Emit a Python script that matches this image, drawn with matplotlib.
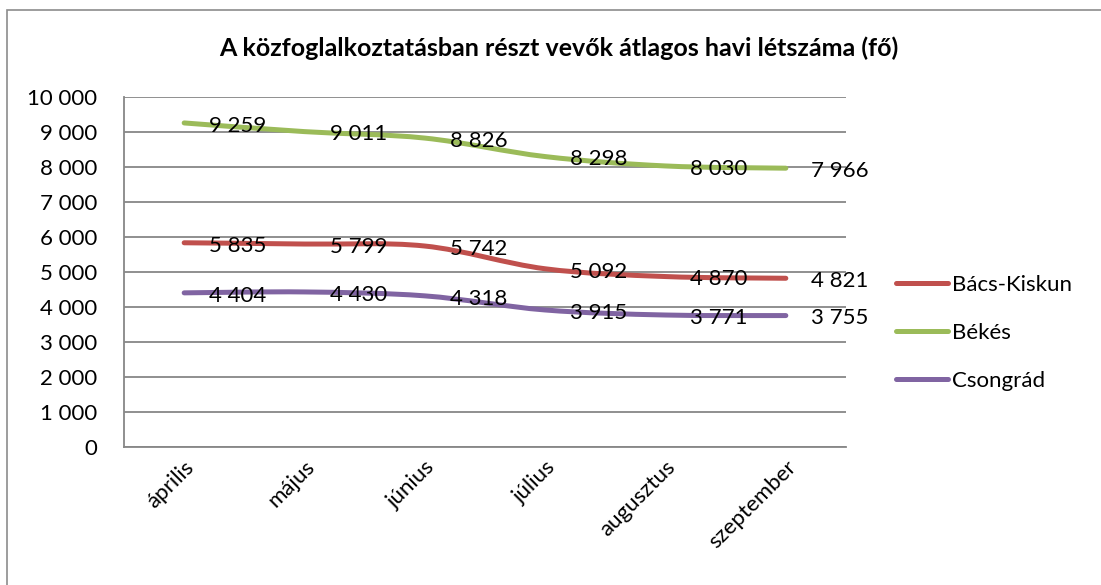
import numpy as np
import matplotlib.pyplot as plt
from matplotlib.path import Path
from matplotlib.patches import PathPatch, Rectangle
from matplotlib.lines import Line2D

plt.rcParams['font.family'] = ['Lato', 'DejaVu Sans']

months = ['április', 'május', 'június', 'július', 'augusztus', 'szeptember']
bacs_kiskun = [5835, 5799, 5742, 5092, 4870, 4821]
bekes = [9259, 9011, 8826, 8298, 8030, 7966]
csongrad = [4404, 4430, 4318, 3915, 3771, 3755]

series = [
    ('Bács-Kiskun', bacs_kiskun, '#C0504D'),
    ('Békés', bekes, '#9BBB59'),
    ('Csongrád', csongrad, '#8064A2'),
]

FS = 16


def fmt(v):
    return '{:,}'.format(int(v)).replace(',', ' ')


def smooth_path(xs, ys, t=1 / 6):
    # Excel-style smoothed line: cubic bezier through the points
    pts = np.column_stack([xs, ys]).astype(float)
    verts = [pts[0]]
    codes = [Path.MOVETO]
    n = len(pts)
    for i in range(n - 1):
        p0 = pts[i - 1] if i > 0 else pts[i]
        p1 = pts[i]
        p2 = pts[i + 1]
        p3 = pts[i + 2] if i + 2 < n else pts[i + 1]
        c1 = p1 + (p2 - p0) * t
        c2 = p2 - (p3 - p1) * t
        verts += [c1, c2, p2]
        codes += [Path.CURVE4] * 3
    return Path(verts, codes)


fig = plt.figure(figsize=(11.01, 5.85), dpi=100)
ax = fig.add_axes([124 / 1101, 1 - 447 / 585, 722 / 1101, 350 / 585])

fig.patches.append(Rectangle((7 / 1101, -0.1), 1.2, 1 - 10 / 585 + 0.1,
                             transform=fig.transFigure, fill=False,
                             edgecolor='#8c8c8c', linewidth=1.2))

x = np.arange(len(months))
for name, vals, col in series:
    ax.add_patch(PathPatch(smooth_path(x, vals), fill=False, edgecolor=col,
                           linewidth=3.6, capstyle='round', zorder=3))
    for xi, v in zip(x, vals):
        ax.annotate(fmt(v), (xi, v), xytext=(18, -2), textcoords='offset points',
                    ha='left', va='center', fontsize=FS, color='black', zorder=4)

ax.set_xlim(-0.5, len(months) - 0.5)
ax.set_ylim(0, 10000)
ax.set_yticks(np.arange(0, 10001, 1000))
ax.set_yticklabels([fmt(v) for v in np.arange(0, 10001, 1000)], fontsize=FS)
ax.set_xticks(x)
ax.set_xticklabels(months, rotation=45, ha='right', rotation_mode='anchor', fontsize=FS)
ax.tick_params(axis='y', length=0, pad=19)
ax.tick_params(axis='x', length=0, pad=7)
ax.grid(axis='y', color='#878787', linewidth=1.3)
ax.set_axisbelow(True)
for s in ['top', 'right']:
    ax.spines[s].set_visible(False)
for s in ['left', 'bottom']:
    ax.spines[s].set_color('#878787')
    ax.spines[s].set_linewidth(1.3)

handles = [Line2D([0], [0], color=c, linewidth=3.6, solid_capstyle='round') for _, _, c in series]
fig.legend(handles, [n for n, _, _ in series], loc='upper left',
           bbox_to_anchor=(876 / 1101, 1 - 255 / 585), frameon=False,
           fontsize=FS, handlelength=2.35, handletextpad=0.15, labelspacing=1.25)

fig.text(559 / 1101, 1 - 48 / 585, 'A közfoglalkoztatásban részt vevők átlagos havi létszáma (fő)',
         ha='center', va='center', fontsize=18, fontweight='bold')

fig.savefig('out.png', dpi=100)
